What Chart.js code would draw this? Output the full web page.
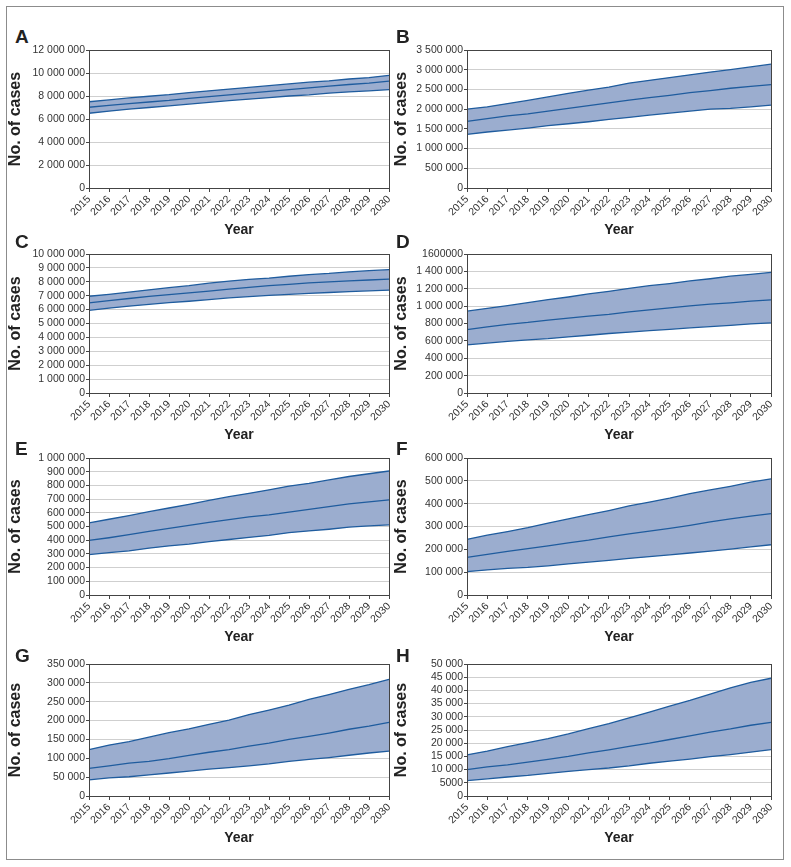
<!DOCTYPE html>
<html><head><meta charset="utf-8">
<script src="https://cdn.jsdelivr.net/npm/chart.js@4"></script>
<style>
body{margin:0;background:#fff;width:791px;height:867px;position:relative;overflow:hidden;font-family:"Liberation Sans",Arial,sans-serif;}
#frame{position:absolute;left:6px;top:6px;width:776px;height:852px;border:1.5px solid #8c8c8c;}
.panel{position:absolute;}
.lbl{position:absolute;font:bold 19px "Liberation Sans",Arial,sans-serif;color:#222;line-height:1;}
</style></head><body>
<div id="frame"></div>
<script>
const years = ['2015','2016','2017','2018','2019','2020','2021','2022','2023','2024','2025','2026','2027','2028','2029','2030'];

const aUpper = [7500000,7660000,7830000,7980000,8120000,8300000,8450000,8600000,8750000,8900000,9050000,9200000,9320000,9480000,9600000,9800000];
const aMid   = [7020000,7180000,7330000,7480000,7620000,7800000,7950000,8100000,8250000,8400000,8550000,8700000,8850000,9000000,9120000,9300000];
const aLower = [6500000,6680000,6850000,7000000,7150000,7300000,7450000,7600000,7720000,7850000,8000000,8100000,8250000,8350000,8450000,8550000];
const aTicks = ['0','2 000 000','4 000 000','6 000 000','8 000 000','10 000 000','12 000 000'];

const bUpper = [2000000,2060000,2140000,2220000,2310000,2400000,2480000,2560000,2660000,2730000,2800000,2870000,2940000,3000000,3070000,3140000];
const bMid   = [1690000,1760000,1830000,1880000,1950000,2020000,2090000,2160000,2230000,2290000,2350000,2420000,2470000,2530000,2580000,2620000];
const bLower = [1360000,1420000,1470000,1520000,1580000,1630000,1680000,1740000,1790000,1850000,1900000,1950000,2000000,2020000,2060000,2100000];
const bTicks = ['0','500 000','1 000 000','1 500 000','2 000 000','2 500 000','3 000 000','3 500 000'];

const cUpper = [6960000,7100000,7250000,7420000,7580000,7720000,7900000,8050000,8180000,8270000,8400000,8520000,8600000,8720000,8800000,8870000];
const cMid   = [6480000,6650000,6800000,6950000,7080000,7200000,7330000,7480000,7600000,7720000,7820000,7920000,8000000,8070000,8130000,8190000];
const cLower = [5950000,6100000,6250000,6380000,6500000,6600000,6720000,6850000,6930000,7030000,7100000,7170000,7230000,7300000,7350000,7400000];
const cTicks = ['0','1 000 000','2 000 000','3 000 000','4 000 000','5 000 000','6 000 000','7 000 000','8 000 000','9 000 000','10 000 000'];

const dUpper = [942000,975000,1005000,1040000,1075000,1105000,1140000,1170000,1205000,1235000,1260000,1290000,1315000,1345000,1365000,1389000];
const dMid   = [730000,760000,790000,812000,840000,862000,885000,905000,935000,958000,980000,1003000,1023000,1038000,1057000,1073000];
const dLower = [554000,575000,595000,612000,625000,645000,665000,685000,700000,718000,732000,750000,765000,778000,795000,808000];
const dTicks = ['0','200 000','400 000','600 000','800 000','1 000 000','1 200 000','1 400 000','1600000'];

const eUpper = [527000,553000,580000,608000,635000,662000,690000,718000,742000,768000,795000,815000,840000,865000,885000,905000];
const eMid   = [398000,418000,440000,465000,487000,508000,530000,550000,570000,585000,605000,625000,645000,665000,680000,695000];
const eLower = [295000,310000,322000,342000,358000,372000,390000,405000,420000,435000,455000,468000,480000,495000,505000,512000];
const eTicks = ['0','100 000','200 000','300 000','400 000','500 000','600 000','700 000','800 000','900 000','1 000 000'];

const fUpper = [244000,262000,278000,295000,315000,333000,352000,370000,390000,407000,424000,444000,460000,476000,494000,509000];
const fMid   = [165000,178000,191000,203000,215000,228000,240000,255000,268000,280000,292000,305000,320000,333000,345000,356000];
const fLower = [102000,110000,117000,121000,128000,136000,144000,152000,160000,168000,176000,184000,192000,201000,211000,220000];
const fTicks = ['0','100 000','200 000','300 000','400 000','500 000','600 000'];

const gUpper = [123000,135000,144000,156000,168000,178000,190000,201000,216000,228000,241000,256000,269000,283000,295000,309000];
const gMid   = [73000,80000,87000,92000,99000,108000,116000,123000,132000,140000,150000,158000,167000,177000,185000,195000];
const gLower = [43000,48000,51000,56000,61000,66000,71000,75000,80000,85000,92000,97000,102000,108000,114000,119000];
const gTicks = ['0','50 000','100 000','150 000','200 000','250 000','300 000','350 000'];

const hUpper = [15600,17000,18700,20200,21700,23500,25500,27400,29600,31800,34000,36200,38600,41000,43000,44600];
const hMid   = [10000,11000,11800,12800,13900,15000,16300,17500,18800,20000,21400,22800,24200,25400,26800,27900];
const hLower = [5800,6500,7200,7800,8600,9300,10000,10600,11400,12400,13200,14000,14900,15700,16600,17600];
const hTicks = ['0','5000','10 000','15 000','20 000','25 000','30 000','35 000','40 000','45 000','50 000'];

const panels = [
  {letter:'A', upper:aUpper, mid:aMid, lower:aLower, ticks:aTicks, max:12000000, step:2000000, col:0, plotTop:50, plotBottom:188, lblTop:27},
  {letter:'B', upper:bUpper, mid:bMid, lower:bLower, ticks:bTicks, max:3500000, step:500000, col:1, plotTop:50, plotBottom:188, lblTop:27},
  {letter:'C', upper:cUpper, mid:cMid, lower:cLower, ticks:cTicks, max:10000000, step:1000000, col:0, plotTop:254, plotBottom:393, lblTop:232},
  {letter:'D', upper:dUpper, mid:dMid, lower:dLower, ticks:dTicks, max:1600000, step:200000, col:1, plotTop:254, plotBottom:393, lblTop:232},
  {letter:'E', upper:eUpper, mid:eMid, lower:eLower, ticks:eTicks, max:1000000, step:100000, col:0, plotTop:458, plotBottom:595, lblTop:439},
  {letter:'F', upper:fUpper, mid:fMid, lower:fLower, ticks:fTicks, max:600000, step:100000, col:1, plotTop:458, plotBottom:595, lblTop:439},
  {letter:'G', upper:gUpper, mid:gMid, lower:gLower, ticks:gTicks, max:350000, step:50000, col:0, plotTop:664, plotBottom:796, lblTop:646},
  {letter:'H', upper:hUpper, mid:hMid, lower:hLower, ticks:hTicks, max:50000, step:5000, col:1, plotTop:664, plotBottom:796, lblTop:646}
];

const FILL = '#9badcf';
const LINE = '#1f5c9e';
const FONT = '"Liberation Sans", Arial, sans-serif';

const framePlugin = {
  id:'frameBox',
  afterDraw(chart){
    const a = chart.chartArea, ctx = chart.ctx;
    ctx.save();
    ctx.strokeStyle = '#444';
    ctx.lineWidth = 1;
    ctx.strokeRect(Math.round(a.left)+0.5, Math.round(a.top)+0.5, Math.round(a.right-a.left), Math.round(a.bottom-a.top));
    ctx.restore();
  }
};

panels.forEach(p => {
  const left = p.col === 0 ? 6 : 392;
  const width = p.col === 0 ? 397 : 391;
  const plotLeft = p.col === 0 ? 89 : 467;
  const plotRight = p.col === 0 ? 389 : 771;
  const top = p.plotTop - 10;
  const height = p.plotBottom - p.plotTop + 10 + 55;

  const lbl = document.createElement('div');
  lbl.className = 'lbl';
  lbl.textContent = p.letter;
  lbl.style.left = (p.col === 0 ? 15 : 396) + 'px';
  lbl.style.top = p.lblTop + 'px';
  document.body.appendChild(lbl);

  const div = document.createElement('div');
  div.className = 'panel';
  div.style.left = left + 'px';
  div.style.top = top + 'px';
  div.style.width = width + 'px';
  div.style.height = height + 'px';
  const canvas = document.createElement('canvas');
  canvas.width = width; canvas.height = height;
  canvas.style.width = width + 'px'; canvas.style.height = height + 'px';
  div.appendChild(canvas);
  document.body.appendChild(div);

  const ds = (data, fill) => ({data, fill, backgroundColor:FILL, borderColor:LINE, borderWidth:1.3, pointRadius:0, tension:0});

  new Chart(canvas, {
    type:'line',
    data:{labels:years, datasets:[ds(p.upper, '+2'), ds(p.mid, false), ds(p.lower, false)]},
    options:{
      responsive:false, animation:false, events:[],
      layout:{padding:{left:0, top:10, right: width - (plotRight - left), bottom:0}},
      plugins:{legend:{display:false}, tooltip:{enabled:false}, filler:{drawTime:'beforeDatasetsDraw'}},
      scales:{
        x:{
          offset:false,
          grid:{drawOnChartArea:false, tickLength:4, tickColor:'#444'},
          border:{color:'#444', width:1},
          ticks:{minRotation:45, maxRotation:45, autoSkip:false, font:{family:FONT, size:10.5}, color:'#333', padding:1},
          title:{display:true, text:'Year', font:{family:FONT, size:14, weight:'bold'}, color:'#222', padding:{top:2, bottom:4}},
          afterFit:(s)=>{ s.height = 55; }
        },
        y:{
          min:0, max:p.max,
          ticks:{stepSize:p.step, autoSkip:false, callback:(v,i)=>p.ticks[i], font:{family:FONT, size:10.5}, color:'#333', padding:1},
          grid:{color:'#cfcfcf', tickColor:'#444', tickLength:3},
          border:{color:'#444', width:1},
          title:{display:true, text:'No. of cases', font:{family:FONT, size:16, weight:'bold'}, color:'#222', padding:{top:0, bottom:4}},
          afterFit:(s)=>{ s.width = plotLeft - left; }
        }
      }
    },
    plugins:[framePlugin]
  });
});
</script>
</body></html>
